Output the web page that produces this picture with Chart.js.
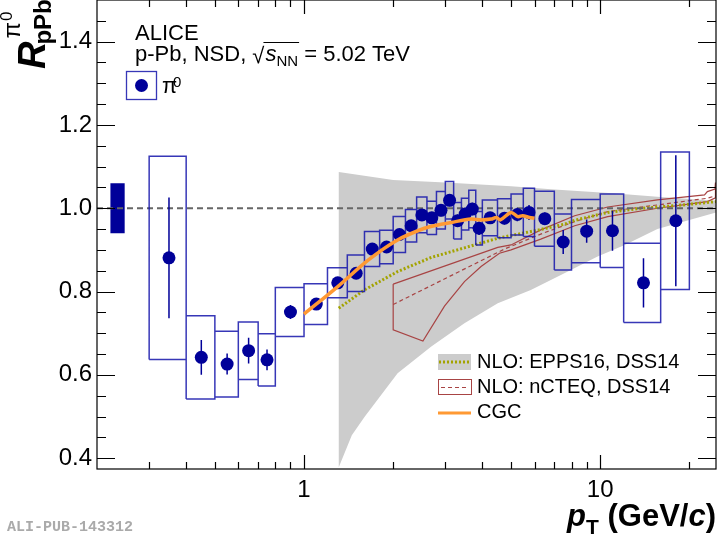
<!DOCTYPE html>
<html>
<head>
<meta charset="utf-8">
<script src="https://cdn.jsdelivr.net/npm/chart.js@4/dist/chart.umd.min.js"></script>
<style>
  html, body { margin: 0; padding: 0; background: #fff; }
</style>
</head>
<body>
<canvas id="rpa" width="717" height="535"></canvas>
<script>
// pi0 nuclear modification factor, p-Pb 5.02 TeV

// pT bins (GeV/c)
const binLo  = [0.3, 0.4, 0.5, 0.6, 0.7, 0.8, 1.0, 1.2, 1.4, 1.6, 1.8, 2.0, 2.2, 2.4, 2.6, 2.8, 3.0, 3.2, 3.4, 3.6, 3.8, 4.0, 4.5, 5.0, 5.5, 6.0, 7.0, 8.0, 10, 12, 16];
const binHi  = [0.4, 0.5, 0.6, 0.7, 0.8, 1.0, 1.2, 1.4, 1.6, 1.8, 2.0, 2.2, 2.4, 2.6, 2.8, 3.0, 3.2, 3.4, 3.6, 3.8, 4.0, 4.5, 5.0, 5.5, 6.0, 7.0, 8.0, 10, 12, 16, 20];
const ptMid  = [0.35, 0.45, 0.55, 0.65, 0.75, 0.9, 1.1, 1.3, 1.5, 1.7, 1.9, 2.1, 2.3, 2.5, 2.7, 2.9, 3.1, 3.3, 3.5, 3.7, 3.9, 4.25, 4.75, 5.25, 5.75, 6.5, 7.5, 9, 11, 14, 18];
const rpa    = [0.881, 0.642, 0.626, 0.658, 0.636, 0.751, 0.770, 0.821, 0.844, 0.902, 0.907, 0.937, 0.958, 0.984, 0.977, 0.995, 1.019, 0.970, 0.986, 0.998, 0.952, 0.977, 0.976, 0.985, 0.990, 0.975, 0.919, 0.945, 0.946, 0.821, 0.970];
const statErr = [0.145, 0.042, 0.025, 0.031, 0.025, 0.017, 0.012, 0.012, 0.012, 0.012, 0.012, 0.012, 0.012, 0.012, 0.014, 0.014, 0.014, 0.015, 0.015, 0.015, 0.016, 0.014, 0.015, 0.016, 0.018, 0.015, 0.029, 0.028, 0.048, 0.059, 0.157];
const sysErr = [0.244, 0.100, 0.079, 0.069, 0.063, 0.059, 0.049, 0.036, 0.044, 0.042, 0.040, 0.043, 0.039, 0.043, 0.040, 0.045, 0.045, 0.044, 0.038, 0.045, 0.040, 0.043, 0.047, 0.049, 0.058, 0.066, 0.067, 0.076, 0.088, 0.095, 0.165];

// normalisation uncertainty at unity
const normX = [0.222, 0.248];
const normErr = 0.06;

// CGC
const cgcX = [1.0, 1.3, 1.65, 2.07, 2.55, 2.83, 3.14, 3.66, 3.96, 4.28, 4.46, 4.6, 5.0, 5.27, 5.47, 5.77, 6.0];
const cgcY = [0.746, 0.812, 0.876, 0.924, 0.952, 0.960, 0.966, 0.974, 0.972, 0.974, 0.978, 0.972, 0.990, 0.980, 0.982, 0.978, 0.976];

// NLO EPPS16 (central + band)
const eppsX  = [1.31, 1.6, 2.07, 2.69, 3.48, 4.51, 6.2, 7.6, 8.2, 10.6, 13.8, 17.8, 24.6];
const eppsY  = [0.760, 0.804, 0.848, 0.882, 0.905, 0.928, 0.948, 0.962, 0.971, 0.990, 1.000, 1.006, 1.016];
const eppsUpX = [1.31, 2.0, 3.0, 5.0, 7.0, 11, 16, 24.6];
const eppsUp  = [1.087, 1.068, 1.062, 1.053, 1.045, 1.036, 1.027, 1.018];
const eppsLoX = [1.31, 1.45, 1.6, 2.07, 2.69, 3.48, 4.51, 5.83, 7.57, 9.8, 12.1, 15.6, 24.6];
const eppsLo  = [0.378, 0.455, 0.499, 0.604, 0.668, 0.724, 0.772, 0.804, 0.844, 0.884, 0.912, 0.950, 0.990];

// NLO nCTEQ (central + band)
const nctCenX = [2.0, 4.75, 6.3, 8.2, 10.6, 15.6, 23, 24.5];
const nctCen  = [0.769, 0.902, 0.938, 0.968, 0.992, 1.008, 1.024, 1.030];
const nctUpX  = [2.0, 4.51, 5.0, 6.3, 8.2, 10.6, 15.6, 22.5, 23, 24.4, 24.5];
const nctUp   = [0.818, 0.906, 0.912, 0.948, 0.982, 1.003, 1.020, 1.032, 1.040, 1.046, 1.062];
const nctLoX  = [2.0, 2.52, 2.98, 3.48, 3.96, 4.57, 5.0, 6.3, 8.2, 10.6, 15.6, 23, 24.5];
const nctLo   = [0.708, 0.681, 0.765, 0.824, 0.860, 0.892, 0.900, 0.926, 0.958, 0.980, 1.000, 1.016, 1.025];

// axis ticks
const yMajor = [0.4, 0.6, 0.8, 1.0, 1.2, 1.4];
const yMinorStep = 0.05;
const xMajor = [1, 10];
const xMinor = [0.3, 0.4, 0.5, 0.6, 0.7, 0.8, 0.9, 2, 3, 4, 5, 6, 7, 8, 9, 20];

const FONT = "'Liberation Sans', Arial, Helvetica, sans-serif";
const NAVY = '#000099';
const BOXBLUE = 'rgba(20,20,170,0.85)';
const GREY = '#cccccc';
const OLIVE = '#a3a300';
const RED = '#a84444';
const ORANGE = '#ff9933';

const pts = (xs, ys) => xs.map((x, i) => ({ x, y: ys[i] }));

// closed outline: upper edge forward, lower edge back
function band(upX, up, loX, lo) {
  const p = pts(upX, up).concat(pts(loX, lo).reverse());
  p.push({ x: upX[0], y: up[0] });
  return p;
}

const boxData = [];
binLo.forEach((lo, i) => {
  const hi = binHi[i], y = rpa[i], s = sysErr[i];
  boxData.push({ x: lo, y: y - s }, { x: hi, y: y - s }, { x: hi, y: y + s },
               { x: lo, y: y + s }, { x: lo, y: y - s }, { x: lo, y: null });
});

const errData = [];
ptMid.forEach((x, i) => {
  errData.push({ x, y: rpa[i] - statErr[i] }, { x, y: rpa[i] + statErr[i] }, { x, y: null });
});

const normData = [
  { x: normX[0], y: 1 - normErr }, { x: normX[1], y: 1 - normErr },
  { x: normX[1], y: 1 + normErr }, { x: normX[0], y: 1 + normErr },
  { x: normX[0], y: 1 - normErr }
];

const line = (extra) => Object.assign({ showLine: true, pointRadius: 0, fill: false }, extra);

const isMajorY = v => yMajor.some(m => Math.abs(m - v) < 1e-6);
const isMajorX = v => xMajor.some(m => Math.abs(m - v) < 1e-9);

// no extra room for half labels at the axis ends
const noPad = s => { s.paddingTop = 0; s.paddingBottom = 0; s.paddingLeft = 0; s.paddingRight = 0; };

// frame with ROOT-style inward ticks
const framePlugin = {
  id: 'frame',
  afterDatasetsDraw(chart) {
    const { ctx, chartArea: a, scales: { x, y } } = chart;
    ctx.save();
    ctx.strokeStyle = '#000';
    ctx.lineWidth = 1.2;
    ctx.strokeRect(a.left, a.top, a.right - a.left, a.bottom - a.top);
    ctx.beginPath();
    for (let v = yMajor[0]; v < y.max; v += yMinorStep) {
      const py = Math.round(y.getPixelForValue(v)) + 0.5;
      const len = isMajorY(v) ? 18 : 9;
      ctx.moveTo(a.left, py); ctx.lineTo(a.left + len, py);
      ctx.moveTo(a.right, py); ctx.lineTo(a.right - len, py);
    }
    xMajor.concat(xMinor).forEach(v => {
      const px = Math.round(x.getPixelForValue(v)) + 0.5;
      const len = isMajorX(v) ? 14 : 7;
      ctx.moveTo(px, a.bottom); ctx.lineTo(px, a.bottom - len);
      ctx.moveTo(px, a.top); ctx.lineTo(px, a.top + len);
    });
    ctx.stroke();
    ctx.restore();
  }
};

// titles, labels and legends
const textPlugin = {
  id: 'texts',
  afterDraw(chart) {
    const ctx = chart.ctx;
    ctx.save();
    ctx.fillStyle = '#000';
    ctx.textBaseline = 'alphabetic';
    ctx.textAlign = 'left';

    // y title
    ctx.save();
    ctx.translate(45, 69);
    ctx.rotate(-Math.PI / 2);
    ctx.font = `italic bold 38px ${FONT}`;
    ctx.fillText('R', 0, 0);
    const rw = ctx.measureText('R').width;
    ctx.font = `bold 24px ${FONT}`;
    ctx.fillText('pPb', rw - 3, 6);
    ctx.font = `24px ${FONT}`;
    ctx.fillText('\u03c0', rw + 3, -25);
    const pw = ctx.measureText('\u03c0').width;
    ctx.font = `17px ${FONT}`;
    ctx.fillText('0', rw + 4 + pw, -33);
    ctx.restore();

    // x title, right aligned
    const parts = [
      ['p', `italic bold 31px ${FONT}`, 0],
      ['T', `bold 21px ${FONT}`, 8],
      [' (GeV/', `bold 31px ${FONT}`, 0],
      ['c', `italic bold 31px ${FONT}`, 0],
      [')', `bold 31px ${FONT}`, 0]
    ];
    let total = 0;
    parts.forEach(p => { ctx.font = p[1]; total += ctx.measureText(p[0]).width; });
    let cx = 716 - total;
    parts.forEach(p => {
      ctx.font = p[1];
      ctx.fillText(p[0], cx, 526 + p[2]);
      cx += ctx.measureText(p[0]).width;
    });

    // header
    ctx.font = `22px ${FONT}`;
    ctx.fillText('ALICE', 135, 40);
    let tx = 135;
    const s1 = 'p-Pb, NSD, ';
    ctx.fillText(s1, tx, 61);
    tx += ctx.measureText(s1).width;
    ctx.fillText('\u221a', tx, 63);
    tx += ctx.measureText('\u221a').width;
    const olStart = tx;
    ctx.font = `italic 22px ${FONT}`;
    ctx.fillText('s', tx + 1, 61);
    tx += ctx.measureText('s').width + 1;
    ctx.font = `15px ${FONT}`;
    ctx.fillText('NN', tx, 66);
    tx += ctx.measureText('NN').width;
    ctx.beginPath();
    ctx.lineWidth = 1;
    ctx.strokeStyle = '#000';
    ctx.moveTo(olStart - 1, 42.5); ctx.lineTo(tx + 1, 42.5);
    ctx.stroke();
    ctx.font = `22px ${FONT}`;
    ctx.fillText(' = 5.02 TeV', tx, 61);

    // pi0 legend entry
    ctx.strokeStyle = BOXBLUE;
    ctx.lineWidth = 1.3;
    ctx.strokeRect(126.5, 71.5, 30, 28);
    ctx.fillStyle = NAVY;
    ctx.beginPath(); ctx.arc(141.5, 85.5, 6.5, 0, Math.PI * 2); ctx.fill();
    ctx.fillStyle = '#000';
    ctx.font = `22px ${FONT}`;
    ctx.fillText('\u03c0', 162, 93);
    ctx.font = `15px ${FONT}`;
    ctx.fillText('0', 173, 87);

    // model legend
    const lx0 = 438, lx1 = 471, ltx = 477;
    ctx.fillStyle = GREY;
    ctx.fillRect(lx0, 354, lx1 - lx0, 16);
    ctx.strokeStyle = OLIVE; ctx.lineWidth = 3; ctx.setLineDash([2, 2]);
    ctx.beginPath(); ctx.moveTo(lx0 + 1, 362); ctx.lineTo(lx1 - 1, 362); ctx.stroke();
    ctx.setLineDash([]);
    ctx.strokeStyle = RED; ctx.lineWidth = 1;
    ctx.strokeRect(lx0 + 0.5, 379.5, lx1 - lx0, 15);
    ctx.setLineDash([4, 3]);
    ctx.beginPath(); ctx.moveTo(lx0 + 3, 387.5); ctx.lineTo(lx1 - 2, 387.5); ctx.stroke();
    ctx.setLineDash([]);
    ctx.strokeStyle = ORANGE; ctx.lineWidth = 3;
    ctx.beginPath(); ctx.moveTo(lx0, 413); ctx.lineTo(lx1, 413); ctx.stroke();
    ctx.fillStyle = '#000';
    ctx.font = `20px ${FONT}`;
    ctx.fillText('NLO: EPPS16, DSS14', ltx, 368);
    ctx.fillText('NLO: nCTEQ, DSS14', ltx, 393);
    ctx.fillText('CGC', ltx, 418);

    // figure id
    ctx.fillStyle = '#aaaaaa';
    ctx.font = "bold 15px 'Liberation Mono', 'DejaVu Sans Mono', monospace";
    ctx.fillText('ALI-PUB-143312', 7, 531);
    ctx.restore();
  }
};

new Chart(document.getElementById('rpa'), {
  type: 'scatter',
  data: {
    datasets: [
      line({ data: band(eppsUpX, eppsUp, eppsLoX, eppsLo), borderWidth: 0, fill: 'shape', backgroundColor: GREY, order: 10 }),
      line({ data: normData, borderWidth: 0, fill: 'shape', backgroundColor: NAVY, order: 9 }),
      line({ data: band(nctUpX, nctUp, nctLoX, nctLo), borderColor: RED, borderWidth: 1.2, order: 8 }),
      line({ data: pts(nctCenX, nctCen), borderColor: RED, borderWidth: 1.2, borderDash: [4, 3], order: 8 }),
      line({ data: pts(eppsX, eppsY), borderColor: OLIVE, borderWidth: 3, borderDash: [2, 2], order: 7 }),
      line({ data: [{ x: 0.2, y: 1 }, { x: 24.6, y: 1 }], borderColor: '#666666', borderWidth: 2, borderDash: [6, 4], order: 6 }),
      line({ data: boxData, borderColor: BOXBLUE, borderWidth: 1.5, spanGaps: false, order: 5 }),
      line({ data: errData, borderColor: NAVY, borderWidth: 1.5, spanGaps: false, order: 4 }),
      { data: pts(ptMid, rpa), showLine: false, pointRadius: 6.5, pointBackgroundColor: NAVY, pointBorderWidth: 0, order: 3 },
      line({ data: pts(cgcX, cgcY), borderColor: ORANGE, borderWidth: 3.5, tension: 0.3, order: 1 })
    ]
  },
  options: {
    responsive: false,
    animation: false,
    devicePixelRatio: 1,
    events: [],
    layout: { autoPadding: false, padding: { left: 0, right: 1, top: 0, bottom: 0 } },
    plugins: { legend: { display: false }, tooltip: { enabled: false } },
    scales: {
      x: {
        type: 'logarithmic',
        min: 0.2,
        max: 24.6,
        grid: { display: false, drawTicks: false },
        border: { display: false },
        ticks: {
          autoSkip: false, maxRotation: 0, minRotation: 0, padding: 7, color: '#000',
          font: { family: FONT, size: 24 },
          callback: v => (isMajorX(v) ? String(v) : '')
        },
        afterFit: s => { s.height = 66; noPad(s); }
      },
      y: {
        min: 0.374,
        max: 1.5,
        grid: { display: false, drawTicks: false },
        border: { display: false },
        ticks: {
          stepSize: 0.05, includeBounds: false, autoSkip: false, padding: 5, color: '#000',
          font: { family: FONT, size: 24 },
          callback: v => (isMajorY(v) ? v.toFixed(1) : '')
        },
        afterFit: s => { s.width = 97; noPad(s); }
      }
    }
  },
  plugins: [framePlugin, textPlugin]
});
</script>
</body>
</html>
